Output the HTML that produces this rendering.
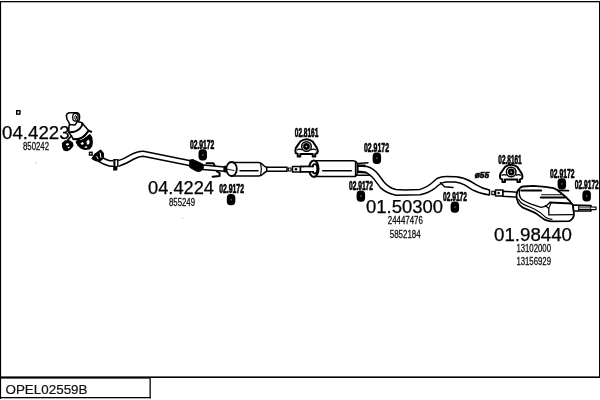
<!DOCTYPE html>
<html><head><meta charset="utf-8">
<style>
html,body{margin:0;padding:0;background:#fff;}
body{width:600px;height:400px;overflow:hidden;font-family:"Liberation Sans",sans-serif;}
svg{display:block;position:absolute;left:0;top:0;}
text{font-family:"Liberation Sans",sans-serif;fill:#111;}
.big{font-size:17.8px;fill:#000;stroke:#000;stroke-width:0.25;}
.sm{font-size:10.6px;fill:#111;stroke:#111;stroke-width:0.3;}
.lb{font-size:12.6px;font-weight:bold;fill:#000;stroke:#000;stroke-width:0.7;}
.p{fill:none;stroke:#000;stroke-width:1.5;stroke-linecap:round;stroke-linejoin:round;}
.pw{fill:#fff;stroke:#000;stroke-width:1.5;stroke-linecap:round;stroke-linejoin:round;}
.k{fill:#000;stroke:#000;stroke-width:1;stroke-linejoin:round;}
</style></head><body>
<svg width="600" height="400" viewBox="0 0 600 400">
<!-- frame -->
<rect x="0" y="0" width="600" height="400" fill="#fff"/>
<rect x="0" y="1" width="600" height="1.3" fill="#000"/>
<rect x="0" y="1" width="1.1" height="398" fill="#000"/>
<rect x="599" y="1" width="1" height="377" fill="#000"/>
<rect x="0" y="376.4" width="600" height="1.6" fill="#000"/>
<rect x="0" y="377" width="150" height="1.6" fill="#000"/>
<rect x="149.5" y="377" width="1.3" height="21.3" fill="#000"/>
<rect x="0" y="397" width="150.8" height="1.3" fill="#000"/>

<!-- GROUP: labels -->
<g id="labels" filter="url(#idf)">
<text x="5.5" y="393.5" font-size="13.2" stroke="#111" stroke-width="0.2" textLength="82" lengthAdjust="spacingAndGlyphs">OPEL02559B</text>
<text class="big" x="2" y="139" textLength="67.6" lengthAdjust="spacingAndGlyphs">04.4223</text>
<text class="sm" x="23" y="150" textLength="26" lengthAdjust="spacingAndGlyphs">850242</text>
<text class="big" x="148" y="194" textLength="66" lengthAdjust="spacingAndGlyphs">04.4224</text>
<text class="sm" x="169" y="205.5" textLength="26" lengthAdjust="spacingAndGlyphs">855249</text>
<text class="big" x="366" y="213.1" textLength="77" lengthAdjust="spacingAndGlyphs">01.50300</text>
<text class="sm" x="387.8" y="224" textLength="35" lengthAdjust="spacingAndGlyphs">24447476</text>
<text class="sm" x="389.8" y="237.6" textLength="30.8" lengthAdjust="spacingAndGlyphs">5852184</text>
<text class="big" x="494" y="241.2" textLength="78" lengthAdjust="spacingAndGlyphs">01.98440</text>
<text class="sm" x="516.4" y="252.4" textLength="34.6" lengthAdjust="spacingAndGlyphs">13102000</text>
<text class="sm" x="516.4" y="265.4" textLength="34.6" lengthAdjust="spacingAndGlyphs">13156929</text>

<text class="lb" x="190" y="148.6" textLength="24.3" lengthAdjust="spacingAndGlyphs">02.9172</text>
<text class="lb" x="219.2" y="193.4" textLength="24.8" lengthAdjust="spacingAndGlyphs">02.9172</text>
<text class="lb" x="294.8" y="137.4" textLength="23.5" lengthAdjust="spacingAndGlyphs">02.8161</text>
<text class="lb" x="364" y="151.8" textLength="25" lengthAdjust="spacingAndGlyphs">02.9172</text>
<text class="lb" x="349" y="190" textLength="24" lengthAdjust="spacingAndGlyphs">02.9172</text>
<text class="lb" x="443" y="200.8" textLength="24" lengthAdjust="spacingAndGlyphs">02.9172</text>
<text class="lb" x="498.3" y="163.6" textLength="23.4" lengthAdjust="spacingAndGlyphs">02.8161</text>
<text class="lb" x="550" y="177.5" textLength="24.4" lengthAdjust="spacingAndGlyphs">02.9172</text>
<text class="lb" x="574.8" y="189" textLength="24" lengthAdjust="spacingAndGlyphs">02.9172</text>
<text x="474.7" y="178.4" font-size="8.6" font-weight="bold" font-style="italic" stroke="#000" stroke-width="0.6" textLength="14.5" lengthAdjust="spacingAndGlyphs">ø55</text>
</g>

<!-- GROUP: hangers (rubber mounts) -->
<defs><filter id="idf" x="0" y="0" width="600" height="400" filterUnits="userSpaceOnUse"><feOffset dx="0" dy="0"/></filter>
<g id="hg">
<rect x="-0.2" y="0" width="8.5" height="11.3" rx="3.7" ry="4" fill="#000"/>
<rect x="3.4" y="4.9" width="1.4" height="1.6" fill="#666"/>
</g>
<g id="brk">
<path d="M5,2 Q11.2,-2.6 17.4,2 L21.6,8.4 Q23,11 22,13.6 L20,14.4 L20,17 L17.4,17 L17.4,14.6 L5,14.6 L5,17 L2.4,17 L2.4,14.4 L0.4,13.6 Q-0.6,11 0.6,8.4 Z" fill="#fff" stroke="#000" stroke-width="2" stroke-linejoin="round"/>
<path d="M1.6,10.6 Q4,8.6 6.6,10.4 M20.8,10.6 Q18.4,8.6 15.8,10.4" fill="none" stroke="#000" stroke-width="1.3"/>
<circle cx="11.2" cy="7" r="4.8" fill="#fff" stroke="#000" stroke-width="1.5"/>
<circle cx="11.2" cy="7" r="2.1" fill="#fff" stroke="#000" stroke-width="2.6"/>
</g>
</defs>
<use href="#hg" x="198.7" y="149.3"/>
<use href="#hg" x="227" y="194"/>
<use href="#hg" x="372.8" y="152.6"/>
<use href="#hg" x="356.8" y="190.4"/>
<use href="#hg" x="450.8" y="201.4"/>
<use href="#hg" x="557.8" y="178.2"/>
<use href="#hg" x="582.6" y="190.2"/>
<use href="#brk" x="295.3" y="139.5"/>
<use href="#brk" x="500" y="165"/>

<!-- small squares -->
<rect x="35.6" y="162.6" width="1" height="1" fill="#999"/>
<rect x="182" y="217.6" width="0.9" height="0.9" fill="#999"/>
<rect x="16.7" y="110.7" width="3.2" height="3.4" fill="#fff" stroke="#000" stroke-width="1.4"/>
<rect x="89.5" y="152.3" width="2.6" height="2.8" fill="#fff" stroke="#000" stroke-width="1.4"/>

<!-- GROUP: manifold cat -->
<g id="cat1">
<path class="pw" d="M69.2,125 Q68.4,129 69,132.6 L73.4,139 Q82,140.4 87.6,132 L89,131 L81.6,122.4 L76.6,121.6 Z"/>
<path class="p" d="M73.4,139 Q82,140.4 87.6,132" style="stroke-width:2"/>
<path class="pw" d="M66.4,115.6 Q66.6,112.7 70,112.7 L77,112.7 Q79.6,113.2 79.6,116.5 L79.3,120 Q78.8,121.3 76.7,121.4 L76.6,122.6 L75,125 L69.8,124.4 Q68.6,121.5 67,119.4 Z"/>
<ellipse class="pw" cx="75.4" cy="117.3" rx="2.7" ry="3.9" style="stroke-width:1.3"/>
<ellipse class="p" cx="75.7" cy="117.6" rx="0.9" ry="2.2" style="stroke-width:1"/>
<path class="p" d="M69,132.2 Q76,132.6 80,128.4 Q82.4,125.8 82.4,123.4" style="stroke-width:2"/>
<path class="p" d="M88.4,130.8 L91.2,131.8" style="stroke-width:2"/>
<path class="p" d="M71.5,135.8 L66.8,141.2" style="stroke-width:1.6"/>
<path d="M76.6,142 L78.6,140 L81.4,140.8 L84.4,139 L87.6,136.8 L89.8,135 L91.4,137.4 L92,142 L91.4,146 L89.2,148.6 L85,149.2 L81.2,147.8 L78.4,145.4 Z" fill="#000" stroke="#000" stroke-width="1.8" stroke-linejoin="round"/>
<path d="M80.4,143.4 l2.2,-1.4 l1.4,1.4 l-1.8,1.6z M86.4,141.4 l2,-1.8 l1.4,2.2 l-0.8,2.4 l-2,0.2z M84.4,146.8 l2.6,-0.6 l0.4,1.2 l-2.4,0.6z" fill="#fff"/>
<path d="M63,143.4 L65.6,141.4 L69.4,141.4 L72,143.2 L72.4,145.6 L70.4,148.2 L66.8,150.2 L64.4,149.6 L63.2,147 Z" fill="#000" stroke="#000" stroke-width="2.2" stroke-linejoin="round"/>
<path d="M65.6,144 l2.4,-1 l1.2,1.4 l-2.2,1.4z M67.6,147.6 l1.8,-1.2 l0.6,0.8 l-1.6,1.4z" fill="#fff"/>
</g>

<!-- GROUP: front pipe -->
<g id="frontpipe">
<path class="pw" d="M102.5,157.6 Q106,159.8 110,160.8 L119,160.4 Q124,159 130,155.2 Q137,151.2 143.5,151.3 L190.5,160.8 L190.5,165.8 L143,156.2 Q139,156.2 134,159 Q126.5,163.6 119.4,166 L110,166.2 Q103.5,164.6 98.5,161.4 Z"/>
<path d="M100.5,150.2 L103.3,153.4 L103.2,158 L99.4,161.4 L95,160.2 L92.2,158.6 L94.6,154.6 Z" fill="#000" stroke="#000" stroke-width="1.4" stroke-linejoin="round"/>
<path d="M100.2,153 L100.9,157.6 M96.8,156.6 L98,158.8" fill="none" stroke="#fff" stroke-width="1" stroke-linecap="round"/>
<rect x="113.4" y="159.2" width="5" height="7.2" fill="#fff"/>
<rect x="113.4" y="159.2" width="2" height="11.2" fill="#000"/>
<rect x="117.1" y="159.4" width="1.4" height="7.2" fill="#000"/>
<rect x="113.4" y="159.1" width="5.1" height="1.3" fill="#000"/>
<rect x="113.4" y="166" width="4" height="4.4" fill="#000"/>
</g>

<!-- GROUP: flex + mid pipe + cat2 -->
<g id="mid">
<path class="k" d="M189.8,160 L193,159.6 L202.6,164 L202.8,169.6 L199.5,171.6 L196,171 L189.7,167.3 Z"/>
<path class="pw" d="M203,165 L224.5,167 L224.5,171.2 L203,169.6 Z"/>
<path class="p" d="M206.5,163.2 L213.4,163.2 L214.6,165.5" style="stroke-width:2"/>
<path class="p" d="M217,171.5 L219.6,173.2 L219.6,176 L212.6,176.7" style="stroke-width:2"/>
<rect class="k" x="224" y="166.3" width="2" height="5.6"/>
<path class="pw" d="M231,162.6 L258.6,162.6 Q261.6,163 263.4,165.2 Q265,167 266.7,167.3 L266.7,171.6 Q265,172 263.4,173.6 Q261.6,175.8 258.6,176 L231,176 Z"/>
<ellipse class="pw" cx="231.6" cy="169" rx="5.2" ry="7" style="stroke-width:1.8"/>
<path class="p" d="M226.5,169 L234,170.5" style="stroke-width:0.9"/>
<path class="p" d="M240,170.7 L258,170.7"/>
<path class="p" d="M260.6,163.2 Q262.2,169.3 260.6,175.6" style="stroke-width:1.2"/>
<path class="pw" d="M266.7,167.3 L287,167.3 L287,171.3 L266.7,171.3 Z"/>
<rect class="pw" x="288.3" y="168" width="2.8" height="3" style="stroke-width:1.1"/>
<rect class="pw" x="292.5" y="166.4" width="8" height="5.6"/>
<circle cx="296" cy="169.2" r="1.3" fill="#000"/>
<rect class="pw" x="300.5" y="166.6" width="12" height="5.2"/>
</g>

<!-- GROUP: center muffler -->
<g id="cmuf">
<path class="pw" d="M314,160.7 L353,160.7 Q357.3,161 357.3,165 L357.3,172.4 Q357.3,176.6 353,176.6 L314,176.6 Z"/>
<ellipse class="pw" cx="313.8" cy="168.7" rx="4.7" ry="8.2" style="stroke-width:2.1"/>
<ellipse class="pw" cx="314.8" cy="168.8" rx="2.5" ry="4.7" style="stroke-width:1.9"/>
<rect x="304" y="167.2" width="9.8" height="4" fill="#fff"/>
<path class="p" d="M300.5,166.6 L313.4,166.6 M300.5,171.8 L313.4,171.8"/>
<path class="p" d="M322.7,170.7 L351.3,170.7"/>
<path class="p" d="M355.6,161.4 L355.6,176"/>
<path class="p" d="M357.8,163.4 L368,162.8 M357.8,165.2 L365,165.2" />
<path class="p" d="M357.8,172.2 L369,173 M357.8,175.2 L369,175.3 L369,173" />
</g>

<!-- GROUP: centre pipe -->
<g id="cpipe">
<path class="pw" d="M357.8,166 L367,166.5 Q373,168 378,174 L384,182 Q389,188 396,189.5 L405,190 L420,189.4 Q427,187.5 433,182 L437,178.5 Q441,176.5 446,176.5 L456,176.7 Q464,177.5 470,181 L476,184.6 Q482,188.5 489.5,190 L489.5,195 Q480,193.8 472,189.6 L465,185.2 Q460,182.6 455,182.1 L446,181.9 Q442,182.1 438.4,185.2 L434.4,188.7 Q428,193.3 420,194.7 L396,195.2 Q386.6,193.4 380.4,187.6 L374.4,179.6 Q369.6,173.8 365,172 L357.8,171.2 Z"/>
<path class="p" d="M440.4,182.8 L444.6,186.7 L453,187.4" style="stroke-width:1.5"/>
<rect class="pw" x="491.8" y="191.2" width="2.6" height="3.4" style="stroke-width:1.1"/>
<rect class="pw" x="495.5" y="190.1" width="7.5" height="5.8"/>
<circle cx="498.6" cy="193" r="1.2" fill="#000"/>
<path class="pw" d="M503,191.2 L520,192.4 L520,197.6 L503,196.2 Z"/>
</g>

<!-- GROUP: rear muffler -->
<g id="rmuf">
<path class="pw" style="stroke-width:1.8" d="M516.5,195.3 Q517,190.5 519.4,188.8 Q521,186.8 523,186.5 L533.5,185.9 L545.3,186.8 L553.5,188.2 Q557,189.4 559.4,191.8 L565.2,196.5 L569.9,201.2 L572.9,205.3 L574,214 Q574,217 572.3,218.8 Q571,220.8 568.8,221.1 L551.1,221.3 Q547,221 544.1,219.4 L537,214.1 Q534,212.2 531.2,211.1 L522.9,207.6 Q520,206 518.2,202.9 Q516.5,199 516.5,195.3 Z"/>
<path class="p" d="M521.2,190.6 L541.1,190.6" style="stroke-width:2"/>
<path class="p" d="M540.8,197.6 L564.6,197.6" style="stroke-width:2"/>
<path class="p" d="M541.7,194.7 L561.7,194.7" style="stroke-width:1.1"/>
<path class="p" d="M519.4,190.5 Q518.6,196 521.8,199.6 Q525,202 531.2,204.2 L541,207.4 L545.3,206.4 L550,202.4" style="stroke-width:1.3"/>
<path class="p" d="M550,202.4 L571.4,203.5" style="stroke-width:2"/>
<path class="p" d="M545.3,205.6 L548.8,208.4 L548.8,214.9 L572.5,214.7" style="stroke-width:1.3"/>
<path class="p" d="M548.8,208.4 L551,203" style="stroke-width:1.1"/>
<path class="p" d="M518.6,199.6 Q520,203 524,204.6 L531.5,207.8 Q536,209.6 540,212.4 L546,217.6 Q548.5,219.2 552,219.3" style="stroke-width:1.2"/>
<path class="pw" d="M573.2,205 L591,205.4 L591,211 L573.6,211 Z"/>
<path class="p" d="M578.7,205.4 L578.7,210.8 M579,206.8 L590,207 M579,209.4 L590,209.4" style="stroke-width:1.1"/>
<path class="pw" d="M591,207 L596,207.2 L596,209.6 L591,209.6" style="stroke-width:1.2"/>
<path class="p" d="M558.2,190.4 L568.4,190.7" style="stroke-width:1.8"/>
</g>
</svg>
</body></html>
